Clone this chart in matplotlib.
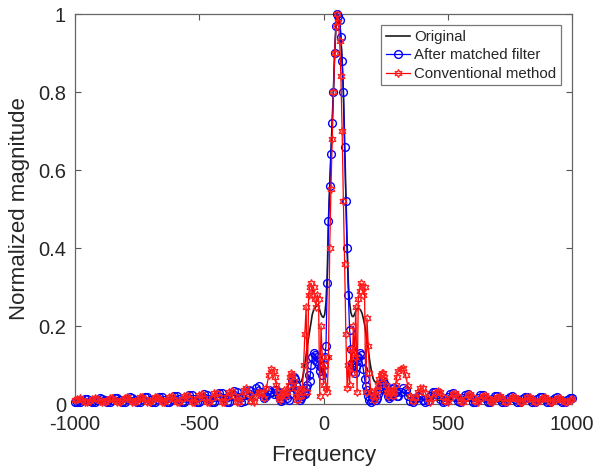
import numpy as np
import matplotlib
matplotlib.use("Agg")
import matplotlib.pyplot as plt

plt.rcParams['font.family'] = ['Liberation Sans', 'DejaVu Sans']

# ---------------- data ----------------
# frequency grids: coarse tails (10 Hz) and finer centre (5 Hz)
freq_left = np.arange(-1000, -200, 10)
freq_mid = np.arange(-200, 301, 5)
freq_right = np.arange(310, 1001, 10)

orig_left = [
    0.008, 0.011, 0.011, 0.008, 0.005, 0.005,
    0.008, 0.011, 0.011, 0.008, 0.005, 0.006,
    0.009, 0.012, 0.012, 0.008, 0.005, 0.006,
    0.009, 0.012, 0.012, 0.009, 0.006, 0.006,
    0.010, 0.013, 0.013, 0.009, 0.006, 0.007,
    0.010, 0.014, 0.014, 0.010, 0.006, 0.007,
    0.011, 0.015, 0.015, 0.010, 0.007, 0.007,
    0.012, 0.016, 0.016, 0.011, 0.007, 0.008,
    0.013, 0.018, 0.018, 0.012, 0.008, 0.008,
    0.014, 0.020, 0.020, 0.013, 0.008, 0.009,
    0.016, 0.022, 0.022, 0.015, 0.009, 0.010,
    0.018, 0.025, 0.025, 0.017, 0.010, 0.011,
    0.020, 0.028, 0.028, 0.020, 0.013, 0.012, 0.017, 0.020]
orig_mid = [
    0.020, 0.025, 0.030, 0.030, 0.028, 0.022, 0.018, 0.020, 0.025, 0.030,
    0.033, 0.030, 0.028, 0.030, 0.035, 0.045, 0.055, 0.060, 0.060, 0.057,
    0.055, 0.055, 0.058, 0.065, 0.080, 0.100, 0.125, 0.150, 0.170, 0.190,
    0.210, 0.230, 0.240, 0.245, 0.250, 0.254, 0.250, 0.240, 0.230, 0.224,
    0.222, 0.230, 0.260, 0.330, 0.470, 0.560, 0.645, 0.725, 0.805, 0.900,
    0.970, 1.000, 0.995, 0.985, 0.940, 0.880, 0.800, 0.670, 0.530, 0.410,
    0.310, 0.260, 0.235, 0.225, 0.224, 0.230, 0.238, 0.244, 0.246, 0.244,
    0.240, 0.233, 0.220, 0.205, 0.185, 0.160, 0.140, 0.115, 0.095, 0.078,
    0.065, 0.058, 0.056, 0.057, 0.058, 0.056, 0.050, 0.042, 0.035, 0.030,
    0.028, 0.027, 0.025, 0.022, 0.022, 0.025, 0.028, 0.030, 0.029, 0.026,
    0.025]
orig_right = [
    0.028, 0.030, 0.025, 0.017, 0.012, 0.015, 0.020, 0.022, 0.018, 0.012,
    0.010, 0.014, 0.018, 0.019, 0.015, 0.010, 0.009, 0.012,
    0.016, 0.017, 0.013, 0.009, 0.008, 0.011,
    0.015, 0.016, 0.012, 0.008, 0.007, 0.010,
    0.014, 0.015, 0.011, 0.007, 0.007, 0.010,
    0.013, 0.014, 0.010, 0.007, 0.006, 0.009,
    0.012, 0.013, 0.010, 0.006, 0.006, 0.009,
    0.012, 0.012, 0.009, 0.006, 0.006, 0.008,
    0.011, 0.012, 0.009, 0.006, 0.005, 0.008,
    0.011, 0.011, 0.008, 0.005, 0.005, 0.008,
    0.010, 0.011, 0.008, 0.005]

mf_left = [
    0.006, 0.004, 0.006, 0.011, 0.014, 0.013,
    0.008, 0.004, 0.005, 0.010, 0.015, 0.014,
    0.009, 0.004, 0.005, 0.011, 0.016, 0.015,
    0.009, 0.004, 0.005, 0.012, 0.017, 0.016,
    0.010, 0.004, 0.005, 0.012, 0.018, 0.017,
    0.010, 0.004, 0.005, 0.013, 0.019, 0.018,
    0.011, 0.004, 0.005, 0.014, 0.021, 0.020,
    0.012, 0.004, 0.005, 0.015, 0.023, 0.022,
    0.013, 0.004, 0.005, 0.017, 0.026, 0.024,
    0.014, 0.004, 0.006, 0.019, 0.029, 0.027,
    0.016, 0.005, 0.006, 0.021, 0.033, 0.031,
    0.018, 0.005, 0.007, 0.024, 0.037, 0.034,
    0.020, 0.040, 0.045, 0.030, 0.015, 0.020, 0.035, 0.030]
mf_mid = [
    0.025, 0.035, 0.035, 0.030, 0.020, 0.012, 0.008, 0.012, 0.020, 0.025,
    0.022, 0.015, 0.010, 0.025, 0.045, 0.060, 0.070, 0.065, 0.050, 0.035,
    0.020, 0.010, 0.015, 0.020, 0.030, 0.025, 0.040, 0.050, 0.075, 0.060,
    0.100, 0.120, 0.130, 0.125, 0.110, 0.120, 0.100, 0.085, 0.095, 0.075,
    0.100, 0.120, 0.150, 0.310, 0.470, 0.560, 0.640, 0.720, 0.800, 0.900,
    0.970, 1.000, 0.995, 0.985, 0.940, 0.880, 0.800, 0.660, 0.520, 0.400,
    0.280, 0.190, 0.140, 0.105, 0.100, 0.080, 0.095, 0.110, 0.120, 0.130,
    0.125, 0.110, 0.090, 0.065, 0.045, 0.035, 0.020, 0.010, 0.006, 0.010,
    0.020, 0.015, 0.010, 0.015, 0.025, 0.035, 0.045, 0.055, 0.060, 0.055,
    0.045, 0.030, 0.020, 0.015, 0.020, 0.030, 0.040, 0.040, 0.030, 0.020,
    0.020]
mf_right = [
    0.030, 0.040, 0.035, 0.020, 0.008, 0.005, 0.012, 0.020, 0.018, 0.010,
    0.005, 0.008, 0.020, 0.030, 0.032, 0.025, 0.012, 0.005,
    0.008, 0.018, 0.026, 0.027, 0.018, 0.007,
    0.006, 0.016, 0.024, 0.025, 0.017, 0.006,
    0.006, 0.015, 0.022, 0.023, 0.015, 0.006,
    0.005, 0.014, 0.021, 0.021, 0.014, 0.005,
    0.005, 0.013, 0.019, 0.020, 0.013, 0.005,
    0.005, 0.012, 0.018, 0.019, 0.012, 0.005,
    0.005, 0.012, 0.017, 0.018, 0.012, 0.005,
    0.005, 0.011, 0.016, 0.017, 0.011, 0.005,
    0.005, 0.010, 0.015, 0.016]

conv_left = [
    0.010, 0.014, 0.015, 0.011, 0.006, 0.004,
    0.007, 0.012, 0.016, 0.014, 0.008, 0.004,
    0.005, 0.011, 0.016, 0.015, 0.009, 0.004,
    0.005, 0.010, 0.016, 0.017, 0.011, 0.005,
    0.004, 0.010, 0.017, 0.018, 0.012, 0.005,
    0.004, 0.010, 0.018, 0.019, 0.013, 0.005,
    0.004, 0.011, 0.019, 0.021, 0.014, 0.005,
    0.004, 0.012, 0.021, 0.023, 0.015, 0.005,
    0.004, 0.013, 0.024, 0.026, 0.016, 0.005,
    0.004, 0.015, 0.027, 0.029, 0.018, 0.005,
    0.004, 0.017, 0.031, 0.034, 0.021, 0.006,
    0.005, 0.020, 0.036, 0.040, 0.025, 0.007,
    0.005, 0.020, 0.030, 0.028, 0.015, 0.040, 0.075, 0.090]
conv_mid = [
    0.085, 0.070, 0.050, 0.030, 0.015, 0.010, 0.020, 0.030, 0.035, 0.030,
    0.020, 0.030, 0.050, 0.070, 0.080, 0.075, 0.060, 0.040, 0.020, 0.010,
    0.020, 0.035, 0.020, 0.040, 0.100, 0.180, 0.250, 0.030, 0.280, 0.300,
    0.310, 0.280, 0.300, 0.270, 0.250, 0.280, 0.270, 0.020, 0.200, 0.120,
    0.050, 0.100, 0.040, 0.030, 0.120, 0.400, 0.550, 0.680, 0.800, 0.900,
    0.970, 1.000, 0.980, 0.930, 0.840, 0.700, 0.520, 0.360, 0.180, 0.040,
    0.100, 0.050, 0.140, 0.080, 0.200, 0.120, 0.250, 0.030, 0.270, 0.290,
    0.310, 0.300, 0.280, 0.300, 0.030, 0.220, 0.150, 0.080, 0.030, 0.030,
    0.020, 0.010, 0.020, 0.035, 0.050, 0.065, 0.075, 0.080, 0.080, 0.070,
    0.050, 0.030, 0.020, 0.030, 0.035, 0.030, 0.020, 0.030, 0.050, 0.070,
    0.085]
conv_right = [
    0.090, 0.092, 0.075, 0.045, 0.020, 0.008, 0.015, 0.030, 0.040, 0.040,
    0.028, 0.012, 0.006, 0.015, 0.027, 0.033, 0.030, 0.018,
    0.007, 0.006, 0.015, 0.025, 0.028, 0.020,
    0.008, 0.005, 0.014, 0.023, 0.025, 0.018,
    0.007, 0.005, 0.013, 0.021, 0.023, 0.016,
    0.007, 0.005, 0.012, 0.019, 0.021, 0.015,
    0.006, 0.005, 0.012, 0.018, 0.019, 0.014,
    0.006, 0.005, 0.011, 0.017, 0.018, 0.013,
    0.006, 0.005, 0.011, 0.016, 0.017, 0.012,
    0.006, 0.005, 0.010, 0.015, 0.016, 0.011,
    0.006, 0.005, 0.009, 0.013]

series_labels = ["Original", "After matched filter", "Conventional method"]
x_ticks = [-1000, -500, 0, 500, 1000]
y_ticks = [0, 0.2, 0.4, 0.6, 0.8, 1]
y_tick_labels = ["0", "0.2", "0.4", "0.6", "0.8", "1"]

freq = np.concatenate([freq_left, freq_mid, freq_right])
original = np.concatenate([orig_left, orig_mid, orig_right])
matched = np.concatenate([mf_left, mf_mid, mf_right])
conventional = np.concatenate([conv_left, conv_mid, conv_right])

# ---------------- figure ----------------
fig = plt.figure(figsize=(6.08, 4.66), dpi=100)
ax = fig.add_axes([75 / 608, 62 / 466, 497 / 608, 390 / 466])

ax.plot(freq, original, color='#1a1a1a', lw=1.2, label=series_labels[0],
        clip_on=False, zorder=3)
ax.plot(freq, matched, color='#0000ff', lw=0.9, marker='o', ms=5.6,
        mfc='none', mec='#0000ff', mew=1.0, label=series_labels[1],
        clip_on=False, zorder=4)
ax.plot(freq, conventional, color='#ff0000', lw=0.9, marker=(6, 1, 0), ms=5.8,
        mfc='none', mec='#ff2020', mew=0.9, label=series_labels[2],
        clip_on=False, zorder=5)

ax.set_xlim(-1000, 1000)
ax.set_ylim(0, 1)
ax.set_xticks(x_ticks)
ax.set_xticklabels([str(v) for v in x_ticks])
ax.set_yticks(y_ticks)
ax.set_yticklabels(y_tick_labels)

txt = '#262626'
ax.tick_params(direction='in', length=4, width=0.8, colors='#555555',
               labelcolor=txt, labelsize=14.5, top=True, right=True)
ax.tick_params(axis='x', pad=8)
ax.tick_params(axis='y', pad=6.5)
for s in ax.spines.values():
    s.set_color('#666666')
    s.set_linewidth(0.9)

ax.set_xlabel("Frequency", fontsize=16, color=txt, labelpad=8)
ax.set_ylabel("Normalized magnitude", fontsize=16, color=txt, labelpad=6)

leg = ax.legend(loc='upper right', fontsize=10.8, frameon=True, fancybox=False,
                borderaxespad=0.75, handlelength=1.6, handletextpad=0.3,
                labelspacing=0.3, borderpad=0.3)
leg.get_frame().set_edgecolor('#555555')
leg.get_frame().set_linewidth(0.9)
for t in leg.get_texts():
    t.set_color(txt)

fig.savefig("out.png", dpi=100)
